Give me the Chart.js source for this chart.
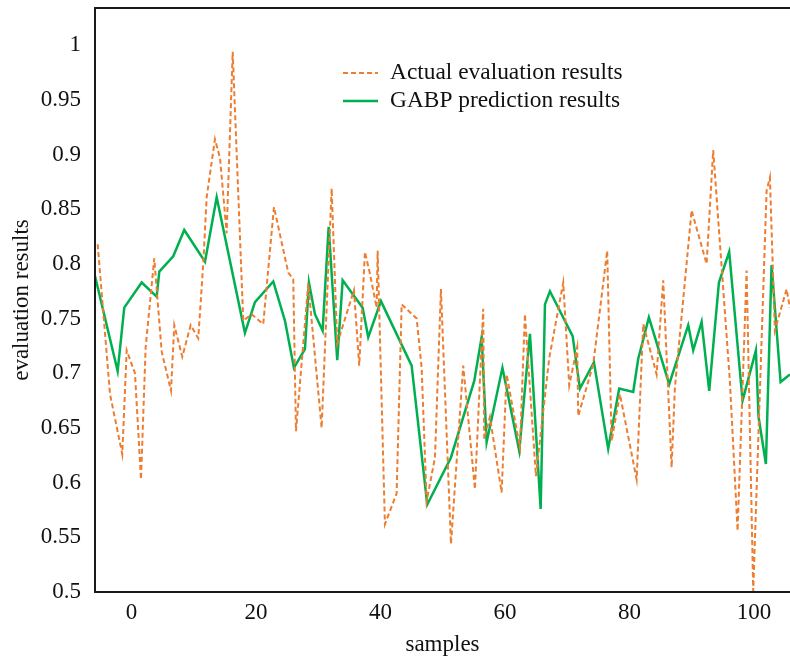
<!DOCTYPE html>
<html>
<head>
<meta charset="utf-8">
<title>GABP evaluation</title>
<script src="https://cdn.jsdelivr.net/npm/chart.js@4.4.1/dist/chart.umd.min.js"></script>
<style>
    html, body { margin: 0; padding: 0; background: #fff; }
    #wrap { width: 790px; height: 661px; }
</style>
</head>
<body>
<div id="wrap"><canvas id="evalChart" width="790" height="661"></canvas></div>
<script>
// Actual evaluation results (vertices)
const actualX = [-5.43, -3.45, -1.48, -0.77, 0.56, 1.53, 2.28, 3.66, 4.85, 6.35, 6.88, 8.16, 9.51, 10.73,
    11.53, 12.08, 13.41, 14.22, 15.29, 16.26, 17.96, 19.31, 21.17, 22.89, 25.19, 25.99, 26.43, 28.40,
    30.55, 32.16, 33.06, 35.74, 36.59, 37.51, 38.31, 39.39, 39.55, 40.72, 42.60, 43.41, 45.82, 46.62,
    47.42, 48.76, 49.72, 51.33, 53.30, 55.18, 56.51, 56.67, 57.59, 59.47, 60.27, 62.41, 63.21, 64.98,
    67.12, 69.37, 70.33, 71.61, 71.78, 74.18, 76.43, 77.14, 78.47, 81.16, 82.22, 84.37, 85.43, 86.78,
    87.31, 89.99, 92.40, 93.46, 96.14, 97.38, 98.83, 99.89, 102.04, 102.57, 103.37, 105.25, 105.78];
const actualY = [0.818, 0.681, 0.626, 0.721, 0.700, 0.603, 0.724, 0.805, 0.720, 0.684, 0.744, 0.715, 0.744, 0.732,
    0.800, 0.861, 0.914, 0.897, 0.828, 0.994, 0.748, 0.754, 0.745, 0.852, 0.792, 0.786, 0.647, 0.782,
    0.650, 0.869, 0.727, 0.776, 0.707, 0.811, 0.791, 0.760, 0.812, 0.562, 0.590, 0.763, 0.750, 0.705,
    0.583, 0.623, 0.777, 0.544, 0.707, 0.594, 0.759, 0.640, 0.660, 0.591, 0.699, 0.632, 0.754, 0.606,
    0.714, 0.783, 0.689, 0.724, 0.661, 0.708, 0.812, 0.638, 0.681, 0.603, 0.745, 0.699, 0.785, 0.614,
    0.687, 0.849, 0.800, 0.904, 0.693, 0.556, 0.794, 0.501, 0.867, 0.879, 0.739, 0.777, 0.760];

// GABP prediction results
const predX = [-5.86, -2.22, -1.16, 1.64, 4.05, 4.47, 6.71, 8.48, 11.81, 13.69, 18.23, 19.84, 22.78, 24.66,
    26.10, 27.87, 28.51, 29.48, 30.71, 31.68, 33.06, 33.93, 37.14, 38.04, 40.08, 45.01, 47.52, 51.33,
    55.07, 56.26, 57.06, 59.60, 62.30, 64.02, 65.74, 66.43, 67.23, 70.88, 72.05, 74.30, 76.59, 78.36,
    80.61, 81.41, 83.13, 86.39, 89.45, 90.25, 91.60, 92.82, 94.38, 96.03, 98.18, 100.32, 100.75, 101.93,
    102.84, 104.29, 105.78];
const predY = [0.789, 0.702, 0.760, 0.783, 0.770, 0.793, 0.807, 0.831, 0.802, 0.861, 0.737, 0.765, 0.784, 0.748,
    0.705, 0.722, 0.783, 0.754, 0.739, 0.834, 0.712, 0.785, 0.760, 0.733, 0.766, 0.707, 0.580, 0.623,
    0.693, 0.733, 0.637, 0.705, 0.629, 0.736, 0.576, 0.763, 0.775, 0.734, 0.686, 0.710, 0.631, 0.686,
    0.683, 0.713, 0.751, 0.690, 0.744, 0.721, 0.747, 0.684, 0.783, 0.811, 0.675, 0.721, 0.660, 0.617,
    0.799, 0.692, 0.699];

const xTicks = [0, 20, 40, 60, 80, 100];
const yTicks = [0.5, 0.55, 0.6, 0.65, 0.7, 0.75, 0.8, 0.85, 0.9, 0.95, 1];
const yTickLabels = ['0.5', '0.55', '0.6', '0.65', '0.7', '0.75', '0.8', '0.85', '0.9', '0.95', '1'];

const FONT = 'Liberation Serif';

// frame round the plot (top, left, bottom)
const framePlugin = {
    id: 'frame',
    afterDraw(chart) {
        const { ctx, chartArea: a } = chart;
        ctx.save();
        ctx.strokeStyle = '#1a1a1a';
        ctx.lineWidth = 2;
        ctx.beginPath();
        ctx.moveTo(a.right + 2, a.top);
        ctx.lineTo(a.left, a.top);
        ctx.lineTo(a.left, a.bottom);
        ctx.lineTo(a.right + 2, a.bottom);
        ctx.stroke();
        ctx.restore();
    }
};

// legend drawn inside the plot
const innerLegend = {
    id: 'innerLegend',
    afterDatasetsDraw(chart) {
        const ctx = chart.ctx;
        ctx.save();
        ctx.font = '23.4px "' + FONT + '"';
        ctx.textBaseline = 'middle';
        ctx.fillStyle = '#111';
        chart.data.datasets.forEach(function(ds, i) {
            const y = 73 + i * 28;
            ctx.strokeStyle = ds.borderColor;
            ctx.lineWidth = ds.borderWidth;
            ctx.setLineDash(ds.borderDash || []);
            ctx.beginPath();
            ctx.moveTo(343, y);
            ctx.lineTo(378, y);
            ctx.stroke();
            ctx.setLineDash([]);
            ctx.fillText(ds.label, 390, y);
        });
        ctx.restore();
    }
};

const ctx = document.getElementById('evalChart').getContext('2d');

new Chart(ctx, {
    type: 'line',
    data: {
        datasets: [{
            label: 'Actual evaluation results',
            data: actualX.map((x, i) => ({ x: x, y: actualY[i] })),
            borderColor: '#ED7D31',
            borderWidth: 2,
            borderDash: [5, 3],
            pointRadius: 0,
            tension: 0,
            fill: false
        }, {
            label: 'GABP prediction results',
            data: predX.map((x, i) => ({ x: x, y: predY[i] })),
            borderColor: '#00B050',
            borderWidth: 2.5,
            pointRadius: 0,
            tension: 0,
            fill: false
        }]
    },
    options: {
        responsive: false,
        animation: false,
        devicePixelRatio: 1,
        layout: { padding: { top: 8, right: 0, left: 0, bottom: 0 } },
        scales: {
            x: {
                type: 'linear',
                min: -5.86,
                max: 105.8,
                grid: { display: false, drawTicks: false },
                border: { display: false },
                afterBuildTicks: function(scale) {
                    scale.ticks = xTicks.map(v => ({ value: v }));
                },
                afterFit: function(scale) {
                    scale.height = 69;
                    scale.paddingLeft = 0;
                    scale.paddingRight = 0;
                },
                ticks: {
                    color: '#111',
                    padding: 7,
                    font: { family: FONT, size: 23 },
                    callback: v => String(v)
                },
                title: {
                    display: true,
                    text: 'samples',
                    color: '#111',
                    font: { family: FONT, size: 23 },
                    padding: { top: 0, bottom: 2 }
                }
            },
            y: {
                min: 0.5,
                max: 1.034,
                grid: { display: false, drawTicks: false },
                border: { display: false },
                afterBuildTicks: function(scale) {
                    scale.ticks = yTicks.map(v => ({ value: v }));
                },
                afterFit: function(scale) {
                    scale.width = 95;
                    scale.paddingTop = 0;
                    scale.paddingBottom = 0;
                },
                ticks: {
                    color: '#111',
                    padding: 14,
                    font: { family: FONT, size: 23 },
                    callback: function(v) {
                        const k = yTicks.findIndex(t => Math.abs(t - v) < 1e-9);
                        return k >= 0 ? yTickLabels[k] : '';
                    }
                },
                title: {
                    display: true,
                    text: 'evaluation results',
                    color: '#111',
                    font: { family: FONT, size: 23 },
                    padding: { top: 8, bottom: 0 }
                }
            }
        },
        plugins: {
            legend: { display: false },
            tooltip: { enabled: false }
        }
    },
    plugins: [framePlugin, innerLegend]
});
</script>
</body>
</html>
